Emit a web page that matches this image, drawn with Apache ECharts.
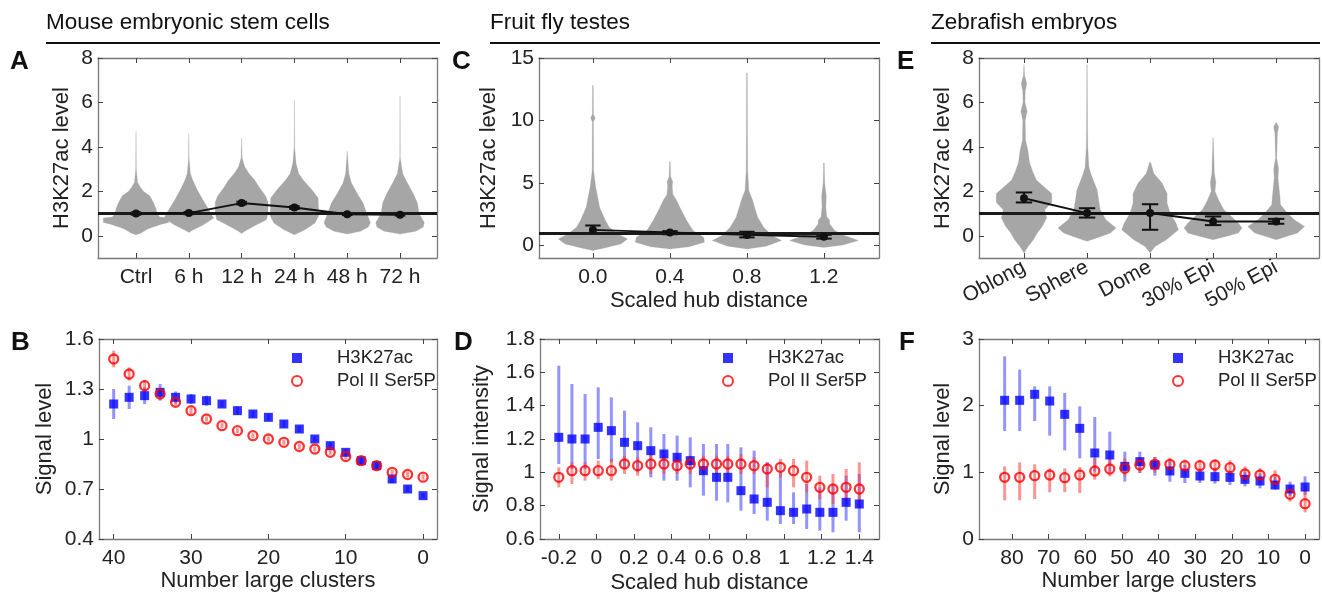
<!DOCTYPE html>
<html>
<head>
<meta charset="utf-8">
<script src="https://cdn.jsdelivr.net/npm/echarts@6/dist/echarts.min.js"></script>
<style>
html,body{margin:0;padding:0;background:#fff;}
#chart{width:1322px;height:595px;}
</style>
</head>
<body>
<div id="chart"></div>
<script>
// ---------- Panel A: mouse ES cells ----------
const aCats = ['Ctrl', '6 h', '12 h', '24 h', '48 h', '72 h'];
const aPos = [1, 2, 3, 4, 5, 6];
const aMeans = [1.0, 1.02, 1.47, 1.27, 0.97, 0.95];
const aLo = [0.95, 0.97, 1.41, 1.21, 0.93, 0.91];
const aHi = [1.05, 1.07, 1.53, 1.33, 1.01, 0.99];
const aViolins = [
  [[0.05,0],[0.1,0.08],[0.3,0.22],[0.5,0.45],[0.6,0.62],[0.8,0.62],[0.85,0.45],[1.0,0.4],[1.2,0.38],[1.5,0.33],[1.8,0.26],[2.0,0.14],[2.2,0.08],[2.4,0.03],[3.0,0.006],[4.7,0.001]],
  [[0.15,0],[0.25,0.07],[0.5,0.28],[0.8,0.47],[1.17,0.38],[1.6,0.27],[2.07,0.16],[2.5,0.075],[2.8,0.03],[3.5,0.005],[4.6,0.001]],
  [[0.1,0],[0.2,0.06],[0.42,0.22],[0.72,0.47],[1.0,0.5],[1.5,0.5],[1.77,0.46],[2.2,0.33],[2.5,0.25],[2.8,0.14],[3.1,0.06],[3.5,0.01],[4.4,0.001]],
  [[0.05,0],[0.27,0.2],[0.57,0.39],[0.9,0.46],[1.7,0.45],[2.07,0.33],[2.5,0.17],[2.8,0.08],[3.27,0.03],[4.0,0.005],[6.1,0.001]],
  [[0.08,0],[0.2,0.25],[0.4,0.4],[0.6,0.44],[1.0,0.37],[1.47,0.3],[1.9,0.19],[2.37,0.08],[2.8,0.03],[3.8,0.001]],
  [[0.08,0],[0.2,0.3],[0.4,0.44],[0.6,0.46],[1.0,0.36],[1.47,0.33],[1.9,0.25],[2.37,0.14],[2.8,0.05],[3.5,0.005],[6.3,0.001]]
];
const aYTicks = [0, 2, 4, 6, 8];

// ---------- Panel C: fruit fly testes ----------
const cPos = [0, 0.4, 0.8, 1.2];
const cLabels = ['0.0', '0.4', '0.8', '1.2'];
const cMeans = [1.25, 1.05, 0.85, 0.7];
const cLo = [0.95, 0.9, 0.65, 0.55];
const cHi = [1.6, 1.15, 1.1, 0.85];
const cViolins = [
  [[-0.4,0],[-0.2,0.06],[0.13,0.145],[0.53,0.18],[0.93,0.13],[1.46,0.085],[2.0,0.065],[3.06,0.035],[3.86,0.025],[4.65,0.015],[5.2,0.01],[6.0,0.004],[9.9,0.003],[10.2,0.012],[10.5,0.003],[12.8,0.002]],
  [[-0.27,0],[-0.1,0.1],[0.27,0.18],[0.66,0.175],[1.2,0.12],[2.0,0.087],[2.8,0.06],[3.6,0.035],[4.1,0.015],[4.8,0.012],[5.1,0.015],[5.5,0.004],[6.7,0.002]],
  [[-0.27,0],[-0.05,0.1],[0.4,0.18],[0.8,0.13],[1.46,0.087],[2.26,0.056],[3.06,0.04],[3.6,0.03],[4.4,0.01],[6.0,0.004],[9.0,0.003],[13.8,0.002]],
  [[-0.15,0],[0.05,0.1],[0.4,0.178],[0.8,0.108],[1.2,0.056],[1.73,0.03],[2.0,0.03],[2.3,0.015],[3.06,0.01],[4.0,0.012],[5.0,0.004],[6.6,0.002]]
];
const cYTicks = [0, 5, 10, 15];

// ---------- Panel E: zebrafish embryos ----------
const eCats = ['Oblong', 'Sphere', 'Dome', '30% Epi', '50% Epi'];
const ePos = [1, 2, 3, 4, 5];
const eMeans = [1.69, 1.02, 1.02, 0.64, 0.64];
const eLo = [1.5, 0.82, 0.27, 0.48, 0.54];
const eHi = [1.95, 1.24, 1.42, 0.87, 0.76];
const eViolins = [
  [[-0.78,0],[-0.48,0.065],[-0.18,0.15],[0.12,0.21],[0.42,0.29],[0.8,0.36],[1.17,0.33],[1.5,0.44],[1.9,0.44],[2.2,0.32],[2.5,0.2],[2.8,0.15],[3.27,0.09],[3.87,0.06],[4.3,0.025],[5.2,0.02],[5.6,0.05],[6.0,0.015],[6.5,0.02],[6.85,0.045],[7.2,0.01],[7.7,0.002]],
  [[-0.25,0],[-0.05,0.2],[0.12,0.37],[0.35,0.46],[0.72,0.3],[1.17,0.21],[1.6,0.185],[2.07,0.16],[2.5,0.1],[2.8,0.06],[3.1,0.03],[4.0,0.012],[5.0,0.008],[7.7,0.003]],
  [[-0.78,0],[-0.48,0.08],[-0.18,0.26],[0.27,0.45],[0.57,0.41],[1.0,0.32],[1.47,0.27],[1.9,0.27],[2.37,0.19],[2.8,0.06],[3.3,0.01]],
  [[-0.18,0],[0.0,0.25],[0.12,0.4],[0.35,0.46],[0.57,0.4],[0.87,0.29],[1.17,0.17],[1.6,0.09],[2.0,0.03],[2.4,0.045],[2.8,0.02],[3.3,0.015],[4.4,0.003]],
  [[-0.18,0],[0.0,0.2],[0.12,0.34],[0.42,0.45],[0.72,0.29],[1.0,0.185],[1.4,0.07],[1.77,0.06],[2.2,0.045],[2.6,0.03],[3.0,0.04],[3.5,0.01],[4.6,0.02],[4.9,0.04],[5.1,0.003]]
];
const eYTicks = [0, 2, 4, 6, 8];

// ---------- Panel B ----------
const bX = [40,38,36,34,32,30,28,26,24,22,20,18,16,14,12,10,8,6,4,2,0];
const bBlue = [1.21,1.25,1.26,1.28,1.25,1.24,1.23,1.21,1.17,1.15,1.13,1.09,1.06,1.0,0.96,0.92,0.87,0.84,0.76,0.70,0.66];
const bBlueErr = [0.09,0.07,0.05,0.05,0.035,0.03,0.03,0.02,0.025,0.02,0.02,0.02,0.02,0.015,0.02,0.02,0.02,0.02,0.025,0.02,0.015];
const bRed = [1.48,1.39,1.32,1.27,1.22,1.17,1.12,1.08,1.05,1.02,1.0,0.98,0.955,0.94,0.92,0.895,0.87,0.84,0.80,0.787,0.771];
const bRedErr = [0.05,0.04,0.035,0.03,0.02,0.02,0.015,0.015,0.015,0.015,0.015,0.015,0.015,0.015,0.015,0.015,0.015,0.015,0.015,0.015,0.015];
const bXTicks = [0, 10, 20, 30, 40];

// ---------- Panel D ----------
const dX = [-0.2,-0.13,-0.06,0.01,0.08,0.15,0.22,0.29,0.36,0.43,0.5,0.57,0.64,0.7,0.77,0.84,0.91,0.98,1.05,1.12,1.19,1.26,1.33,1.4];
const dBlue = [1.21,1.20,1.20,1.27,1.25,1.18,1.16,1.13,1.11,1.09,1.07,1.01,0.97,0.97,0.89,0.84,0.82,0.77,0.76,0.78,0.76,0.76,0.82,0.81];
const dBlueLo = [1.05,1.02,1.02,1.08,1.06,1.02,1.0,0.97,0.95,0.95,0.91,0.86,0.83,0.82,0.77,0.75,0.71,0.69,0.69,0.66,0.65,0.64,0.71,0.64];
const dBlueHi = [1.64,1.53,1.47,1.51,1.45,1.37,1.30,1.27,1.23,1.22,1.21,1.17,1.17,1.17,1.15,1.13,1.06,1.0,0.88,0.93,0.91,0.92,0.98,0.99];
const dRed = [0.97,1.01,1.01,1.01,1.01,1.05,1.04,1.05,1.05,1.04,1.05,1.05,1.05,1.05,1.05,1.04,1.02,1.03,1.01,0.97,0.91,0.90,0.91,0.90];
const dRedLo = [0.91,0.93,0.95,0.96,0.95,0.99,0.98,0.99,0.99,0.99,0.99,0.99,0.99,0.99,0.99,0.99,0.91,0.97,0.91,0.88,0.84,0.81,0.81,0.79];
const dRedHi = [1.03,1.06,1.06,1.07,1.08,1.10,1.09,1.11,1.11,1.10,1.10,1.10,1.10,1.10,1.11,1.09,1.06,1.08,1.08,1.07,0.98,0.99,1.02,1.06];
const dXTicks = [-0.2,0,0.2,0.4,0.6,0.8,1,1.2,1.4];

// ---------- Panel F ----------
const fX = [82,77.9,73.8,69.7,65.6,61.5,57.4,53.3,49.2,45.1,41,36.9,32.8,28.7,24.6,20.5,16.4,12.3,8.2,4.1,0];
const fBlue = [2.08,2.08,2.17,2.07,1.87,1.66,1.29,1.26,1.09,1.16,1.11,1.02,0.985,0.945,0.935,0.925,0.895,0.87,0.81,0.75,0.78];
const fBlueLo = [1.62,1.62,1.77,1.55,1.33,1.21,1.01,1.01,0.86,0.99,0.95,0.86,0.84,0.84,0.83,0.81,0.79,0.76,0.74,0.64,0.66];
const fBlueHi = [2.74,2.54,2.29,2.29,2.19,1.99,1.83,1.61,1.31,1.31,1.23,1.18,1.11,1.06,1.06,1.03,1.01,0.985,0.94,0.86,0.94];
const fRed = [0.925,0.925,0.95,0.96,0.92,0.96,1.02,1.05,1.06,1.11,1.12,1.12,1.10,1.10,1.11,1.07,0.975,0.96,0.895,0.67,0.53];
const fRedLo = [0.58,0.58,0.60,0.70,0.70,0.69,0.89,0.94,0.94,0.99,0.995,1.01,0.995,0.995,0.995,0.96,0.86,0.85,0.79,0.56,0.40];
const fRedHi = [1.09,1.15,1.12,1.06,1.06,1.08,1.21,1.21,1.21,1.23,1.23,1.22,1.19,1.19,1.19,1.18,1.09,1.06,1.03,0.79,0.79];
const fXTicks = [0,10,20,30,40,50,60,70,80];

// ---------- styling ----------
const FONT = '"Liberation Sans", Arial, Helvetica, sans-serif';
const TXT = '#222';
const AXC = '#7a7a7a';
const BLUE = '#0000ff';
const RED = '#ff0000';
const BLUE_ERR = 'rgba(60,60,255,0.55)';
const RED_ERR = 'rgba(255,60,60,0.55)';
const VIOLIN = '#a6a6a6';
const TICK_FS = 21;
const NAME_FS = 22;

const grids = [
  {left: 98, top: 58, width: 339, height: 200},   // A
  {left: 539, top: 58, width: 340, height: 200},  // C
  {left: 979, top: 58, width: 340, height: 200},  // E
  {left: 99, top: 339, width: 338, height: 200},  // B
  {left: 540, top: 339, width: 339, height: 200}, // D
  {left: 979, top: 339, width: 340, height: 200}  // F
];

const xAxes = [];
const yAxes = [];
function addAxes(g, xc, yc) {
  const common = {
    gridIndex: g,
    type: 'value',
    splitLine: {show: false},
    axisLine: {show: true, onZero: false, lineStyle: {color: AXC, width: 1.3}},
    axisTick: {show: true, inside: true, length: 5, lineStyle: {color: '#444', width: 1}},
  };
  const xBase = Object.assign({}, common, {
    min: xc.min, max: xc.max, inverse: !!xc.inverse,
  });
  xAxes.push(Object.assign({}, xBase, {
    position: 'bottom',
    axisTick: Object.assign({}, common.axisTick, {customValues: xc.ticks}),
    axisLabel: {show: true, customValues: xc.ticks, color: TXT, fontFamily: FONT, fontSize: TICK_FS,
      margin: xc.margin || 9, rotate: xc.rotate || 0, formatter: xc.formatter, hideOverlap: false},
    name: xc.name || '', nameLocation: 'middle', nameGap: xc.nameGap || 30,
    nameTextStyle: {color: TXT, fontFamily: FONT, fontSize: NAME_FS}
  }));
  xAxes.push(Object.assign({}, xBase, {
    position: 'top',
    axisTick: Object.assign({}, common.axisTick, {customValues: xc.ticks}),
    axisLabel: {show: false}
  }));
  const yBase = Object.assign({}, common, {min: yc.min, max: yc.max});
  const yLab = {show: true, color: TXT, fontFamily: FONT, fontSize: TICK_FS, margin: 5, formatter: yc.formatter};
  const yTick = Object.assign({}, common.axisTick);
  if (yc.ticks) { yLab.customValues = yc.ticks; yTick.customValues = yc.ticks; }
  else { yBase.interval = yc.interval; }
  yAxes.push(Object.assign({}, yBase, {
    position: 'left', axisTick: yTick, axisLabel: yLab,
    name: yc.name, nameLocation: 'middle', nameGap: yc.nameGap, nameRotate: 90,
    nameTextStyle: {color: TXT, fontFamily: FONT, fontSize: NAME_FS}
  }));
  yAxes.push(Object.assign({}, yBase, {
    position: 'right', axisTick: yTick, axisLabel: {show: false}
  }));
}

function catFormatter(pos, labels) {
  return function (v) {
    for (let i = 0; i < pos.length; i++) if (Math.abs(v - pos[i]) < 1e-6) return labels[i];
    return '';
  };
}

// A
addAxes(0, {min: 0.28, max: 6.7, ticks: aPos, formatter: catFormatter(aPos, aCats)},
           {min: -1, max: 8, ticks: aYTicks, name: 'H3K27ac level', nameGap: 25});
// C
addAxes(1, {min: -0.28, max: 1.486, ticks: cPos, formatter: catFormatter(cPos, cLabels),
            name: 'Scaled hub distance', nameGap: 32},
           {min: -1, max: 15, ticks: cYTicks, name: 'H3K27ac level', nameGap: 39});
// E
addAxes(2, {min: 0.286, max: 5.68, ticks: ePos, formatter: catFormatter(ePos, eCats), rotate: 28, margin: 8},
           {min: -1, max: 8, ticks: eYTicks, name: 'H3K27ac level', nameGap: 25});
// B
addAxes(3, {min: -1.8, max: 41.9, inverse: true, ticks: bXTicks, name: 'Number large clusters', nameGap: 30},
           {min: 0.4, max: 1.6, interval: 0.3, name: 'Signal level', nameGap: 43});
// D
addAxes(4, {min: -0.3, max: 1.505, ticks: dXTicks, name: 'Scaled hub distance', nameGap: 33},
           {min: 0.6, max: 1.8, interval: 0.2, name: 'Signal intensity', nameGap: 47});
// F
addAxes(5, {min: -3.8, max: 89, inverse: true, ticks: fXTicks, name: 'Number large clusters', nameGap: 30},
           {min: 0, max: 3, interval: 1, name: 'Signal level', nameGap: 25});

const series = [];

function violinSeries(g, pos, shapes) {
  series.push({
    type: 'custom', xAxisIndex: 2 * g, yAxisIndex: 2 * g, z: 1, silent: true,
    data: pos.map((p, i) => [p, i]),
    renderItem: function (params, api) {
      const cx = api.value(0);
      const shape = shapes[params.dataIndex];
      const pts = [];
      for (let k = 0; k < shape.length; k++) pts.push(api.coord([cx + shape[k][1], shape[k][0]]));
      for (let k = shape.length - 1; k >= 0; k--) pts.push(api.coord([cx - shape[k][1], shape[k][0]]));
      return {type: 'polygon', shape: {points: pts}, style: {fill: VIOLIN, stroke: 'rgba(166,166,166,0.5)', lineWidth: 0.5}};
    }
  });
}

function meanSeries(g, pos, means, lo, hi, capW) {
  series.push({
    type: 'custom', xAxisIndex: 2 * g, yAxisIndex: 2 * g, z: 4, silent: true,
    data: pos.map((p, i) => [p, lo[i], hi[i]]),
    renderItem: function (params, api) {
      const x = api.value(0);
      const a = api.coord([x, api.value(1)]);
      const b = api.coord([x, api.value(2)]);
      const c1 = api.coord([x - capW, api.value(1)]);
      const c2 = api.coord([x + capW, api.value(1)]);
      const d1 = api.coord([x - capW, api.value(2)]);
      const d2 = api.coord([x + capW, api.value(2)]);
      const st = {stroke: '#111', lineWidth: 2};
      return {type: 'group', children: [
        {type: 'line', shape: {x1: a[0], y1: a[1], x2: b[0], y2: b[1]}, style: st},
        {type: 'line', shape: {x1: c1[0], y1: c1[1], x2: c2[0], y2: c2[1]}, style: st},
        {type: 'line', shape: {x1: d1[0], y1: d1[1], x2: d2[0], y2: d2[1]}, style: st}
      ]};
    }
  });
  series.push({
    type: 'line', xAxisIndex: 2 * g, yAxisIndex: 2 * g, z: 5, silent: true,
    data: pos.map((p, i) => [p, means[i]]),
    symbol: 'circle', symbolSize: 8,
    itemStyle: {color: '#111'}, lineStyle: {color: '#111', width: 2},
    markLine: {silent: true, symbol: 'none', label: {show: false},
      lineStyle: {color: '#1a1a1a', width: 3, type: 'solid'}, data: [{yAxis: 1}]}
  });
}

function errSeries(g, xs, lo, hi, color) {
  series.push({
    type: 'custom', xAxisIndex: 2 * g, yAxisIndex: 2 * g, z: 2, silent: true,
    data: xs.map((x, i) => [x, lo[i], hi[i]]),
    renderItem: function (params, api) {
      const a = api.coord([api.value(0), api.value(1)]);
      const b = api.coord([api.value(0), api.value(2)]);
      return {type: 'line', shape: {x1: a[0], y1: a[1], x2: b[0], y2: b[1]},
        style: {stroke: color, lineWidth: 3}};
    }
  });
}

function pointSeries(g, xs, blue, blueLo, blueHi, red, redLo, redHi) {
  errSeries(g, xs, blueLo, blueHi, BLUE_ERR);
  series.push({
    type: 'scatter', name: 'H3K27ac', xAxisIndex: 2 * g, yAxisIndex: 2 * g, z: 3,
    data: xs.map((x, i) => [x, blue[i]]), symbol: 'rect', symbolSize: 9,
    itemStyle: {color: BLUE}
  });
  errSeries(g, xs, redLo, redHi, RED_ERR);
  series.push({
    type: 'scatter', name: 'Pol II Ser5P', xAxisIndex: 2 * g, yAxisIndex: 2 * g, z: 4,
    data: xs.map((x, i) => [x, red[i]]), symbol: 'circle', symbolSize: 9,
    itemStyle: {color: 'rgba(255,255,255,0)', borderColor: RED, borderWidth: 2.3}
  });
}

violinSeries(0, aPos, aViolins);
meanSeries(0, aPos, aMeans, aLo, aHi, 0.1);
violinSeries(1, cPos, cViolins);
meanSeries(1, cPos, cMeans, cLo, cHi, 0.04);
violinSeries(2, ePos, eViolins);
meanSeries(2, ePos, eMeans, eLo, eHi, 0.13);

pointSeries(3, bX, bBlue, bBlue.map((v, i) => v - bBlueErr[i]), bBlue.map((v, i) => v + bBlueErr[i]),
  bRed, bRed.map((v, i) => v - bRedErr[i]), bRed.map((v, i) => v + bRedErr[i]));
pointSeries(4, dX, dBlue, dBlueLo, dBlueHi, dRed, dRedLo, dRedHi);
pointSeries(5, fX, fBlue, fBlueLo, fBlueHi, fRed, fRedLo, fRedHi);

function legendAt(left) {
  return {
    left: left, top: 342, orient: 'vertical', itemGap: 1, itemWidth: 10, itemHeight: 10,
    selectedMode: false,
    textStyle: {color: TXT, fontFamily: FONT, fontSize: 18.5, lineHeight: 22, padding: [0, 0, 0, 30]},
    data: [{name: 'H3K27ac', icon: 'rect'}, {name: 'Pol II Ser5P', icon: 'circle'}]
  };
}

const titleText = (text, left, top, size, weight) => ({
  text: text, left: left, top: top, padding: 0,
  textStyle: {color: '#111', fontFamily: FONT, fontSize: size, fontWeight: weight}
});

const option = {
  backgroundColor: '#ffffff',
  animation: false,
  title: [
    titleText('Mouse embryonic stem cells', 46, 11, 22.5, 'normal'),
    titleText('Fruit fly testes', 490, 11, 22.5, 'normal'),
    titleText('Zebrafish embryos', 931, 11, 22.5, 'normal'),
    titleText('A', 10, 49, 26, 'bold'),
    titleText('C', 452, 49, 26, 'bold'),
    titleText('E', 897, 49, 26, 'bold'),
    titleText('B', 11, 330, 26, 'bold'),
    titleText('D', 454, 330, 26, 'bold'),
    titleText('F', 899, 330, 26, 'bold')
  ],
  graphic: [
    {type: 'line', shape: {x1: 46, y1: 43, x2: 440, y2: 43}, style: {stroke: '#111', lineWidth: 2}},
    {type: 'line', shape: {x1: 490, y1: 43, x2: 880, y2: 43}, style: {stroke: '#111', lineWidth: 2}},
    {type: 'line', shape: {x1: 931, y1: 43, x2: 1320, y2: 43}, style: {stroke: '#111', lineWidth: 2}}
  ],
  legend: [legendAt(286), legendAt(717), legendAt(1167)],
  grid: grids,
  xAxis: xAxes,
  yAxis: yAxes,
  series: series
};

const chart = echarts.init(document.getElementById('chart'), null, {renderer: 'canvas'});
chart.setOption(option);
</script>
</body>
</html>
